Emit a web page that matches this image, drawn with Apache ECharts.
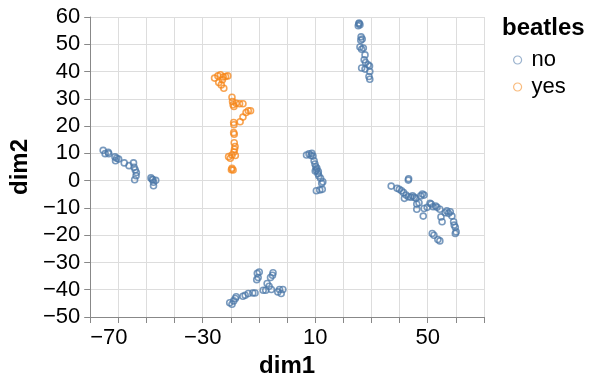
<!DOCTYPE html>
<html>
<head>
<meta charset="utf-8">
<script src="https://cdn.jsdelivr.net/npm/echarts@6/dist/echarts.min.js"></script>
<style>
  html, body { margin: 0; padding: 0; background: #fff; }
  #chart { width: 594px; height: 383px; }
</style>
</head>
<body>
<div id="chart"></div>
<script>
// points: [dim1, dim2]
var noPoints = [
  [-65.4,11.1],[-64.7,9.9],[-63.6,10.4],[-63.4,9.9],[-61.2,8.7],[-61.0,7.3],[-60.6,8.2],[-59.9,7.9],
  [-57.9,6.5],[-56.2,5.5],[-54.6,6.5],[-54.4,4.9],[-54.0,4.0],[-53.6,3.0],[-53.7,1.8],[-54.2,0.3],
  [-48.4,1.0],[-47.7,0.3],[-47.5,-0.6],[-46.7,0.1],[-47.5,-1.9],[-48.0,0.5],
  [6.9,9.4],[7.8,9.8],[8.8,10.0],[9.2,9.0],[8.5,9.2],[9.6,7.3],[9.9,6.1],[10.2,5.1],[10.4,3.9],
  [11.1,3.3],[10.6,4.5],[11.3,1.7],[11.9,0.9],[12.7,-0.4],[12.3,-1.0],[12.5,-3.2],[11.6,-3.4],
  [10.4,-3.7],[11.0,2.5],[10.0,3.5],
  [25.6,57.8],[25.9,57.2],[25.3,56.8],[25.5,57.5],[26.3,52.7],[26.7,51.9],[26.2,51.5],[25.9,49.0],
  [26.5,48.2],[27.1,48.6],[27.7,46.1],[27.4,44.3],[27.9,43.3],[28.8,42.5],[26.5,41.3],[27.7,40.9],
  [29.4,40.0],[29.1,38.2],[29.4,37.2],[29.3,42.0],
  [37.0,-2.0],[39.1,-2.8],[39.9,-3.2],[40.7,-3.7],[41.4,-4.4],[41.7,-6.5],[42.3,-5.3],[43.1,-5.9],
  [44.0,-6.1],[44.6,-5.6],[45.2,-6.1],[45.8,-6.5],[43.1,0.2],[43.2,0.7],[46.1,-8.6],[46.9,-8.1],
  [47.5,-5.6],[48.1,-4.9],[48.7,-5.3],[46.1,-10.5],[48.4,-13.0],[48.7,-10.2],[49.8,-9.8],[50.8,-8.3],
  [51.2,-8.6],[51.9,-9.6],[52.8,-9.3],[53.3,-9.8],[54.3,-10.5],[54.7,-13.3],[55.1,-15.1],[56.2,-11.8],
  [56.8,-11.1],[57.4,-12.0],[58.0,-11.4],[58.6,-13.0],[59.2,-15.1],[59.4,-16.3],[59.8,-17.1],[60.1,-18.8],
  [59.8,-19.4],[51.6,-19.4],[52.2,-20.0],[53.6,-21.6],[54.3,-22.1],
  [-20.4,-44.8],[-19.6,-45.3],[-19.0,-44.1],[-18.4,-43.2],[-18.1,-42.6],[-15.7,-42.4],[-14.9,-42.0],
  [-13.8,-41.4],[-12.2,-41.2],[-11.4,-41.2],[-10.6,-34.0],[-9.9,-33.5],[-10.3,-35.5],[-10.8,-36.3],
  [-8.5,-40.2],[-7.6,-40.2],[-7.1,-37.7],[-6.4,-38.7],[-5.6,-39.9],[-5.9,-35.5],[-5.2,-34.7],
  [-5.0,-33.8],[-3.3,-40.8],[-2.7,-39.9],[-2.1,-41.4],[-1.5,-39.9]
];
var yesPoints = [
  [-25.8,37.6],[-24.6,38.4],[-23.7,38.8],[-22.7,38.0],[-21.9,38.2],[-21.1,38.4],[-24.3,36.0],
  [-23.4,35.1],[-22.5,33.9],[-23.0,37.0],
  [-19.6,30.6],[-19.4,29.0],[-19.2,27.8],[-18.9,27.2],[-18.1,28.4],[-16.9,28.2],[-15.7,28.2],
  [-14.6,25.0],[-13.8,25.6],[-13.0,25.6],[-15.7,23.3],[-16.7,21.6],
  [-19.0,21.3],[-18.9,20.5],[-19.0,17.6],[-18.8,17.0],[-18.8,13.9],[-18.5,12.5],[-18.7,11.5],
  [-18.9,10.5],[-20.8,8.8],[-20.2,8.2],[-19.6,9.4],[-18.4,9.2],[-19.6,4.5],[-19.2,3.9],[-19.8,4.0]
];
var xLabels = [-70, -30, 10, 50];

var fontName = 'Liberation Sans, Arial, Helvetica, sans-serif';
function minus(v) { return String(v).replace('-', '\u2212'); }

var dom = document.getElementById('chart');
var myChart = echarts.init(dom, null, { renderer: 'canvas' });
var option = {
    animation: false,
    textStyle: { fontFamily: fontName },
    grid: { left: 84, right: 110, top: 17, bottom: 66, containLabel: false },
    title: {
        text: 'beatles',
        left: 502,
        top: 16,
        padding: 0,
        textStyle: { fontSize: 24, fontWeight: 'bold', color: '#000', fontFamily: fontName }
    },
    legend: {
        orient: 'vertical',
        left: 513,
        top: 49,
        padding: 0,
        itemWidth: 8,
        itemHeight: 8,
        itemGap: 5,
        icon: 'circle',
        data: [
            { name: 'no', itemStyle: { color: '#fff', borderColor: 'rgba(76,120,168,0.75)', borderWidth: 1.2 } },
            { name: 'yes', itemStyle: { color: '#fff', borderColor: 'rgba(245,133,24,0.75)', borderWidth: 1.2 } }
        ],
        textStyle: { fontSize: 22, color: '#000', fontFamily: fontName, padding: [0, 0, 0, 5] }
    },
    xAxis: {
        type: 'value',
        min: -70,
        max: 70,
        interval: 10,
        name: 'dim1',
        nameLocation: 'middle',
        nameGap: 37,
        nameTextStyle: { fontSize: 24, fontWeight: 'bold', color: '#000' },
        axisLine: { show: true, onZero: false, lineStyle: { color: '#888', width: 1 } },
        axisTick: { show: true, length: 6, lineStyle: { color: '#888' } },
        splitLine: { show: true, lineStyle: { color: '#ddd', width: 1 } },
        axisLabel: {
            margin: 10,
            fontSize: 22,
            color: '#000',
            alignMinLabel: 'left',
            formatter: function (v) {
                return xLabels.indexOf(v) >= 0 ? minus(v) : '';
            }
        }
    },
    yAxis: {
        type: 'value',
        min: -50,
        max: 60,
        interval: 10,
        name: 'dim2',
        nameLocation: 'middle',
        nameGap: 53,
        nameTextStyle: { fontSize: 24, fontWeight: 'bold', color: '#000' },
        axisLine: { show: true, onZero: false, lineStyle: { color: '#888', width: 1 } },
        axisTick: { show: true, length: 6, lineStyle: { color: '#888' } },
        splitLine: { show: true, lineStyle: { color: '#ddd', width: 1 } },
        axisLabel: {
            margin: 10,
            fontSize: 22,
            color: '#000',
            formatter: function (v) { return minus(v); }
        }
    },
    series: [{
        name: 'no',
        type: 'scatter',
        data: noPoints,
        symbol: 'circle',
        symbolSize: 6,
        itemStyle: { color: 'rgba(0,0,0,0)', borderColor: '#4c78a8', borderWidth: 1.6, opacity: 0.75 },
        emphasis: { disabled: true }
    }, {
        name: 'yes',
        type: 'scatter',
        data: yesPoints,
        symbol: 'circle',
        symbolSize: 6,
        itemStyle: { color: 'rgba(0,0,0,0)', borderColor: '#f58518', borderWidth: 1.6, opacity: 0.75 },
        emphasis: { disabled: true }
    }]
};
if (option && typeof option === "object") {
    myChart.setOption(option, true);
}
</script>
</body>
</html>
